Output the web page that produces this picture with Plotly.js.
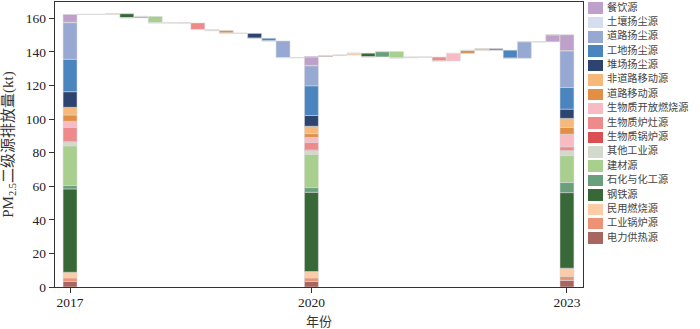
<!DOCTYPE html>
<html><head><meta charset="utf-8">
<script src="https://cdn.plot.ly/plotly-3.0.1.min.js"></script>
<style>html,body{margin:0;padding:0;background:#fff}#chart{width:700px;height:329px}</style>
</head><body><div id="chart"></div>
<script>
// ---- data (stack order: bottom -> top) ----
const sources = ['电力供热源','工业锅炉源','民用燃烧源','钢铁源','石化与化工源','建材源','其他工业源','生物质锅炉源','生物质炉灶源','生物质开放燃烧源','道路移动源','非道路移动源','堆场扬尘源','工地扬尘源','道路扬尘源','土壤扬尘源','餐饮源'];
const years = ['2017','2020','2023'];
const emis2017 = [3.3, 2.1, 3.4, 49.6, 2.0, 23.6, 2.3, 0.4, 8.4, 3.6, 3.7, 4.6, 9.3, 19.3, 21.8, 0.3, 4.6];
const emis2020 = [3.3, 2.1, 3.8, 47.2, 2.8, 19.8, 2.3, 0.3, 4.5, 3.0, 2.2, 4.4, 6.4, 17.7, 11.9, 0.3, 5.2];
const emis2023 = [3.9, 2.4, 4.9, 45.0, 6.0, 16.0, 2.8, 0.3, 2.2, 7.5, 4.0, 5.4, 5.5, 12.9, 21.8, 0.2, 9.4];
const colors = ['#A86661','#EE9276','#FBCCA6','#386838','#6A9F7C','#A8CF8E','#D4D9CE','#DA4F52','#EE8A8A','#F8BAC3','#E28F45','#F6B97A','#2E4470','#4A85BF','#97A8D3','#D4DEEE','#BFA0CB'];
const yTicks = [0, 20, 40, 60, 80, 100, 120, 140, 160];

// ---- layout of slots ----
const yearSlots = [0, 17, 35];
const emis = [emis2017, emis2020, emis2023];
const n = sources.length;
const totals = emis.map(a => a.reduce((s, v) => s + v, 0));

const data = [];
// connector lines for the waterfall levels
const cx = [], cy = [];
for (let w = 0; w < 2; w++) {
  let level = totals[w];
  for (let i = 0; i < n; i++) {
    const slot = yearSlots[w] + 1 + i;
    level += emis[w + 1][i] - emis[w][i];
    if (slot >= yearSlots[w + 1]) continue;
    cx.push(slot - 0.5, slot + 0.5, null);
    cy.push(level, level, null);
  }
}

for (let i = 0; i < n; i++) {
  const x = [], base = [], h = [];
  for (let w = 0; w < 3; w++) {
    let below = 0;
    for (let j = 0; j < i; j++) below += emis[w][j];
    x.push(yearSlots[w]); base.push(below); h.push(emis[w][i]);
  }
  for (let w = 0; w < 2; w++) {
    let before = totals[w];
    for (let j = 0; j < i; j++) before += emis[w + 1][j] - emis[w][j];
    const d = emis[w + 1][i] - emis[w][i];
    x.push(yearSlots[w] + 1 + i);
    base.push(d >= 0 ? before : before + d);
    h.push(Math.abs(d));
  }
  data.push({
    type: 'bar', x: x, y: h, base: base, width: 0.98,
    marker: {color: colors[i], line: {color: 'rgba(215,215,215,0.9)', width: 0.6}},
    showlegend: false, hoverinfo: 'skip', xaxis: 'x', yaxis: 'y'
  });
}
data.push({
  type: 'scatter', mode: 'lines', x: cx, y: cy, connectgaps: false,
  line: {color: '#dcdcdc', width: 1.2}, showlegend: false, hoverinfo: 'skip'
});

// ---- custom legend (rectangular swatches) ----
const idx = sources.map((_, i) => i);
data.push({
  type: 'bar', orientation: 'h', xaxis: 'x2', yaxis: 'y2',
  y: idx, x: idx.map(() => 0.13), base: idx.map(() => 0.04), width: 0.8,
  marker: {color: colors, line: {width: 0}}, showlegend: false, hoverinfo: 'skip'
});
data.push({
  type: 'scatter', mode: 'text', xaxis: 'x2', yaxis: 'y2',
  y: idx, x: idx.map(() => 0.205), text: sources, textposition: 'middle right',
  textfont: {family: 'Noto Sans CJK SC', size: 10.2, color: '#444'},
  cliponaxis: false, showlegend: false, hoverinfo: 'skip'
});

const axFont = {family: 'Liberation Serif, Noto Sans CJK SC', size: 13.5, color: '#222'};
const layout = {
  width: 700, height: 329,
  margin: {l: 55, r: 0, t: 2, b: 42},
  paper_bgcolor: '#fff', plot_bgcolor: '#fff',
  barmode: 'overlay', bargap: 0, showlegend: false,
  xaxis: {
    domain: [0, 0.8186], range: [-1.06, 36.13],
    tickvals: yearSlots, ticktext: years,
    ticks: 'outside', ticklen: 5, tickwidth: 1, tickcolor: '#333',
    ticklabelstandoff: -2,
    showline: true, mirror: true, linecolor: '#333', linewidth: 1.2,
    showgrid: false, zeroline: false, automargin: false,
    tickfont: axFont
  },
  yaxis: {
    range: [0, 169.7], tickvals: yTicks,
    ticks: 'outside', ticklen: 5, tickwidth: 1, tickcolor: '#333',
    showline: true, mirror: true, linecolor: '#333', linewidth: 1.2,
    showgrid: false, zeroline: false, automargin: false,
    tickfont: axFont,
    title: {text: 'PM<sub>2.5</sub>二级源排放量(kt)', font: {family: 'Liberation Serif, Noto Sans CJK SC', size: 15, color: '#333'}, standoff: 8}
  },
  xaxis2: {domain: [0.8186, 1], range: [0, 1], visible: false, anchor: 'y2', fixedrange: true},
  yaxis2: {domain: [0, 1], range: [-3.40, 16.42], visible: false, anchor: 'x2', fixedrange: true},
  annotations: [{
    text: '年份', xref: 'paper', yref: 'paper', x: 0.8186 / 2, y: -0.118,
    xanchor: 'center', yanchor: 'middle', showarrow: false,
    font: {family: 'Noto Sans CJK SC', size: 13, color: '#333'}
  }]
};
Plotly.newPlot('chart', data, layout, {displayModeBar: false, staticPlot: true});
</script>
</body></html>
